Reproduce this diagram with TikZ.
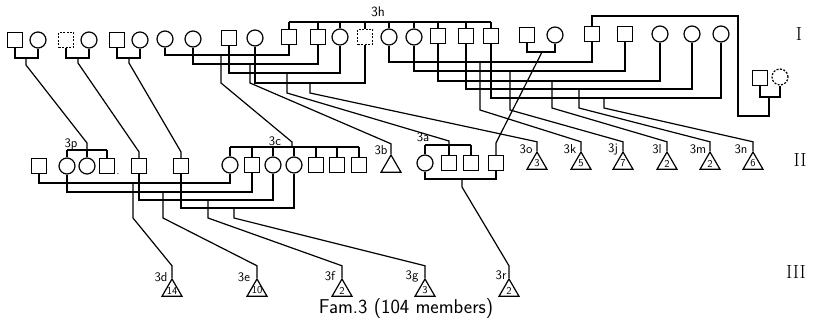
\documentclass[tikz,border=0pt]{standalone}
\usepackage{tikz}
\usetikzlibrary{shapes.geometric}

\begin{document}
\begin{tikzpicture}[x=1pt,y=-1pt,line width=1.2pt,
    male/.style={draw,rectangle,minimum size=15pt,inner sep=0pt},
    female/.style={draw,circle,minimum size=16pt,inner sep=0pt},
    unsure/.style={dash pattern=on 2pt off 1.5pt},
    issue/.style={draw,regular polygon,regular polygon sides=3,minimum size=23pt,inner sep=0pt},
    num/.style={font=\sffamily\fontsize{10.5}{10.5}\selectfont,inner sep=0pt},
    lab/.style={font=\sffamily\fontsize{13}{13}\selectfont,inner sep=0pt},
    gen/.style={font=\fontsize{19}{19}\selectfont,inner sep=0pt}]
\useasboundingbox (0,0) rectangle (813,323);

% generation I
\node[male] at (15,40) (a1) {};
\node[female] at (38,40) (a2) {};
\node[male,unsure] at (66,40) (b1) {};
\node[female] at (89,40) (b2) {};
\node[male] at (117,40) (c1) {};
\node[female] at (140,40) (c2) {};
\node[female] at (165,39) (d1) {};
\node[female] at (193,39) (d2) {};
\node[male] at (229,38) (e1) {};
\node[female] at (255,38) (e2) {};
\node[male] at (289,37) (h1) {};
\node[male] at (318,37) (h2) {};
\node[female] at (340,37) (h3) {};
\node[male,unsure] at (365,37) (h4) {};
\node[female] at (389,37) (h5) {};
\node[female] at (414,37) (h6) {};
\node[male] at (438,36) (h7) {};
\node[male] at (466,36) (h8) {};
\node[male] at (491,36) (h9) {};
\node[male] at (527,35) (f1) {};
\node[female] at (555,35) (f2) {};
\node[male] at (592,34) (g1) {};
\node[male] at (625,34) (g2) {};
\node[female] at (660,34) (g3) {};
\node[female] at (692,34) (g4) {};
\node[female] at (721,34) (g5) {};
\node[male] at (760,78) (k1) {};
\node[female,unsure] at (780,77) (k2) {};

% generation II
\node[male] at (39,166) (p0) {};
\node[female] at (67,166) (p1) {};
\node[female] at (87,166) (p2) {};
\node[male] at (107,166) (p3) {};
\node[male] at (139,166) (q1) {};
\node[male] at (181,166) (r1) {};
\node[female] at (230,165) (s1) {};
\node[male] at (252,165) (s2) {};
\node[female] at (273,165) (s3) {};
\node[female] at (294,165) (s4) {};
\node[male] at (316,165) (s5) {};
\node[male] at (337,165) (s6) {};
\node[male] at (359,165) (s7) {};
\node[issue] at (391,166.5) (i3b) {};
\node[female] at (425,163) (u1) {};
\node[male] at (449,163) (u2) {};
\node[male] at (471,163) (u3) {};
\node[male] at (496,163) (u4) {};
\node[issue,label={[num]center:3}] at (537,163.5) (i3o) {};
\node[issue,label={[num]center:5}] at (581,163.5) (i3k) {};
\node[issue,label={[num]center:7}] at (623,163.5) (i3j) {};
\node[issue,label={[num]center:2}] at (667,163.5) (i3l) {};
\node[issue,label={[num]center:2}] at (710,163.5) (i3m) {};
\node[issue,label={[num]center:6}] at (753,163.5) (i3n) {};

% generation III
\node[issue,label={[num]center:14}] at (172,290.5) (i3d) {};
\node[issue,label={[num]center:10}] at (257,290.5) (i3e) {};
\node[issue,label={[num]center:2}] at (342,290.5) (i3f) {};
\node[issue,label={[num]center:3}] at (425,290.5) (i3g) {};
\node[issue,label={[num]center:2}] at (509,290.5) (i3r) {};

% marriage points
\coordinate (ma) at (26,58);
\coordinate (mb) at (78,58);
\coordinate (mc) at (129,58);
\coordinate (md1) at (221,55);
\coordinate (md2) at (250,64);
\coordinate (me1) at (287,73);
\coordinate (me2) at (310,83);
\coordinate (mh5) at (480,62);
\coordinate (mh6) at (510,71);
\coordinate (mh7) at (552,81);
\coordinate (mh8) at (579,89);
\coordinate (mh9) at (604,98);
\coordinate (mf) at (542,52);
\coordinate (mk) at (769,97);
\coordinate (kt) at (738,16);
\coordinate (m3d) at (133,183);
\coordinate (m3e) at (163,192);
\coordinate (m3f) at (208,200);
\coordinate (m3g) at (234,208);
\coordinate (m3r) at (462,179);

% sibships
\coordinate (c3h) at (378,22);
\coordinate (c3p) at (87,150);
\coordinate (c3c) at (292,147);
\coordinate (c3a) at (449,145);
\draw (h1 |- c3h) -- (h9 |- c3h);
\foreach \n in {1,...,9} \draw (h\n) -- (h\n |- c3h);
\draw (p1 |- c3p) -- (p3 |- c3p);
\foreach \n in {1,2,3} \draw (p\n) -- (p\n |- c3p);
\draw (s1 |- c3c) -- (s7 |- c3c);
\foreach \n in {1,...,7} \draw (s\n) -- (s\n |- c3c);
\draw (u1 |- c3a) -- (u3 |- c3a);
\foreach \n in {1,2,3} \draw (u\n) -- (u\n |- c3a);

% marriages
\draw (a1) |- (ma) -| (a2);
\draw (b1) |- (mb) -| (b2);
\draw (c1) |- (mc) -| (c2);
\draw (d1) |- (md1) -| (h1);
\draw (d2) |- (md2) -| (h2);
\draw (e1) |- (me1) -| (h3);
\draw (e2) |- (me2) -| (h4);
\draw (h5) |- (mh5) -| (g1);
\draw (h6) |- (mh6) -| (g2);
\draw (h7) |- (mh7) -| (g3);
\draw (h8) |- (mh8) -| (g4);
\draw (h9) |- (mh9) -| (g5);
\draw (f1) |- (mf) -| (f2);
\draw (k1) |- (mk) -| (k2);
\draw (p0) |- (m3d) -| (s1);
\draw (p1) |- (m3e) -| (s2);
\draw (q1) |- (m3f) -| (s3);
\draw (r1) |- (m3g) -| (s4);
\draw (u1) |- (m3r) -| (u4);

% descent
\draw (ma) -- ++(0,7) -- ([yshift=7pt]c3p) -- (c3p);
\draw (mb) -- ++(0,5) -- ([yshift=6pt]q1.north) -- (q1);
\draw (mc) -- ++(0,5) -- ([yshift=6pt]r1.north) -- (r1);
\draw (md1) -- ++(0,28) -- ([yshift=5pt]c3c) -- (c3c);
\draw (md2) -- ++(0,19) -- ([yshift=10pt]i3b.north) -- (i3b);
\draw (me1) -- ++(0,20) -- ([yshift=4pt]c3a) -- (c3a);
\draw (me2) -- ++(0,10) -- ([yshift=9pt]i3o.north) -- (i3o);
\draw (mh5) -- ++(0,48) -- ([yshift=9pt]i3k.north) -- (i3k);
\draw (mh6) -- ++(0,39) -- ([yshift=9pt]i3j.north) -- (i3j);
\draw (mh7) -- ++(0,27) -- ([yshift=9pt]i3l.north) -- (i3l);
\draw (mh8) -- ++(0,19) -- ([yshift=9pt]i3m.north) -- (i3m);
\draw (mh9) -- ++(0,10) -- ([yshift=9pt]i3n.north) -- (i3n);
\draw (mf) -- ([yshift=12pt]u4.north) -- (u4);
\draw (mk) -- ++(0,19) -| (kt) -| (g1);
\draw (m3d) -- ++(0,35) -- ([yshift=12pt]i3d.north) -- (i3d);
\draw (m3e) -- ++(0,26) -- ([yshift=12pt]i3e.north) -- (i3e);
\draw (m3f) -- ++(0,18) -- ([yshift=12pt]i3f.north) -- (i3f);
\draw (m3g) -- ++(0,10) -- ([yshift=12pt]i3g.north) -- (i3g);
\draw (m3r) -- ++(0,8) -- ([yshift=12pt]i3r.north) -- (i3r);

% labels
\node[lab,font=\sffamily\fontsize{14}{14}\selectfont] at (378,12) (l3h) {3h};
\node[lab] at (71,144) (l3p) {3p};
\node[lab] at (275,141) (l3c) {3c};
\node[lab] at (381,150) (l3b) {3b};
\node[lab] at (423,137) (l3a) {3a};
\node[lab] at (526,149) (l3o) {3o};
\node[lab] at (570,149) (l3k) {3k};
\node[lab] at (613,149) (l3j) {3j};
\node[lab] at (657,149) (l3l) {3l};
\node[lab] at (698,149) (l3m) {3m};
\node[lab] at (741,149) (l3n) {3n};
\node[lab] at (161,277) (l3d) {3d};
\node[lab] at (244,277) (l3e) {3e};
\node[lab] at (330,276) (l3f) {3f};
\node[lab] at (412,276) (l3g) {3g};
\node[lab] at (501,275) (l3r) {3r};
\node at (118,174) (dot) {.};
\node[gen] at (799,34) (gI) {I};
\node[gen] at (800,160) (gII) {II};
\node[gen] at (796,272) (gIII) {III};
\node[inner sep=0pt,font=\sffamily\fontsize{20}{20}\selectfont] at (406,309) (cap) {Fam.3 (104 members)};
\end{tikzpicture}
\end{document}
